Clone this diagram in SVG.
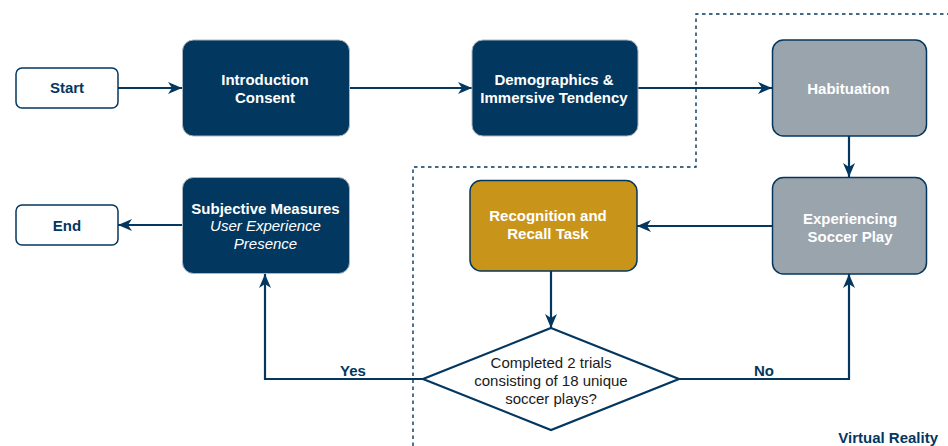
<svg xmlns="http://www.w3.org/2000/svg" width="948" height="446" viewBox="0 0 948 446">
<style>
text{font-family:"Liberation Sans",Arial,Helvetica,sans-serif;font-size:15px;text-anchor:middle}
.w{fill:#ffffff;font-weight:bold}
.wi{fill:#ffffff;font-style:italic}
.n{fill:#04375f;font-weight:bold}
.k{fill:#1a1a1a}
.dark{fill:#02375f;stroke:#a9b5c1;stroke-width:1}
.gray{fill:#9aa4ad;stroke:#04375f;stroke-width:1.5}
.gold{fill:#c8951a;stroke:#04375f;stroke-width:1.5}
.term{fill:#ffffff;stroke:#04375f;stroke-width:1.5}
.c{fill:none;stroke:#04375f;stroke-width:2.2}
</style>
<defs>
<marker id="ah" viewBox="0 0 14 12" refX="14" refY="6" markerWidth="14" markerHeight="12" markerUnits="userSpaceOnUse" orient="auto">
<path d="M0,0 L14,6 L0,12 L4,6 Z" fill="#04375f"/>
</marker>
</defs>
<g id="vr-boundary">
<path d="M413,446 L413,167 L696,167 L696,14 L948,14" fill="none" stroke="#04375f" stroke-width="1.4" stroke-dasharray="3.5,3.5"/>
<text class="n" x="938" y="443" style="text-anchor:end">Virtual Reality</text>
</g>
<g id="connectors">
<path class="c" d="M118,88 L182,88" marker-end="url(#ah)"/>
<path class="c" d="M349,88 L472,88" marker-end="url(#ah)"/>
<path class="c" d="M638,88 L772,88" marker-end="url(#ah)"/>
<path class="c" d="M849,136 L849,177" marker-end="url(#ah)"/>
<path class="c" d="M772,226 L637,226" marker-end="url(#ah)"/>
<path class="c" d="M551,271 L551,328" marker-end="url(#ah)"/>
<path class="c" d="M423,379 L265,379 L265,274" marker-end="url(#ah)"/>
<path class="c" d="M679,379 L849,379 L849,274" marker-end="url(#ah)"/>
<path class="c" d="M182,225 L118,225" marker-end="url(#ah)"/>
<text class="n" x="353" y="376">Yes</text>
<text class="n" x="764" y="376">No</text>
</g>
<g id="start">
<rect class="term" x="16" y="68" width="102" height="40" rx="6"/>
<text class="n" x="67" y="93">Start</text>
</g>
<g id="intro">
<rect class="dark" x="182.5" y="40" width="167" height="96" rx="11"/>
<text class="w" x="265" y="85">Introduction</text>
<text class="w" x="265" y="103">Consent</text>
</g>
<g id="demographics">
<rect class="dark" x="472" y="40" width="166" height="96" rx="11"/>
<text class="w" x="554" y="84.5">Demographics &amp;</text>
<text class="w" x="554" y="102.5">Immersive Tendency</text>
</g>
<g id="habituation">
<rect class="gray" x="772.5" y="40" width="154" height="96" rx="11"/>
<text class="w" x="848.5" y="94">Habituation</text>
</g>
<g id="experiencing">
<rect class="gray" x="772.5" y="177.5" width="154" height="96.5" rx="11"/>
<text class="w" x="850" y="224">Experiencing</text>
<text class="w" x="850" y="242">Soccer Play</text>
</g>
<g id="recognition">
<rect class="gold" x="470" y="180.5" width="167" height="90.5" rx="11"/>
<text class="w" x="548" y="221">Recognition and</text>
<text class="w" x="548" y="239">Recall Task</text>
</g>
<g id="decision">
<polygon points="551,328 679,379 551,430 423,379" fill="#ffffff" stroke="#04375f" stroke-width="2.2"/>
<text class="k" x="551" y="368">Completed 2 trials</text>
<text class="k" x="551" y="386">consisting of 18 unique</text>
<text class="k" x="551" y="404">soccer plays?</text>
</g>
<g id="subjective">
<rect class="dark" x="182.5" y="177.5" width="167" height="96" rx="11"/>
<text class="w" x="265.5" y="213.5">Subjective Measures</text>
<text class="wi" x="265.5" y="231">User Experience</text>
<text class="wi" x="265.5" y="248.5">Presence</text>
</g>
<g id="end">
<rect class="term" x="16" y="205" width="102" height="40" rx="6"/>
<text class="n" x="67" y="231">End</text>
</g>
</svg>
